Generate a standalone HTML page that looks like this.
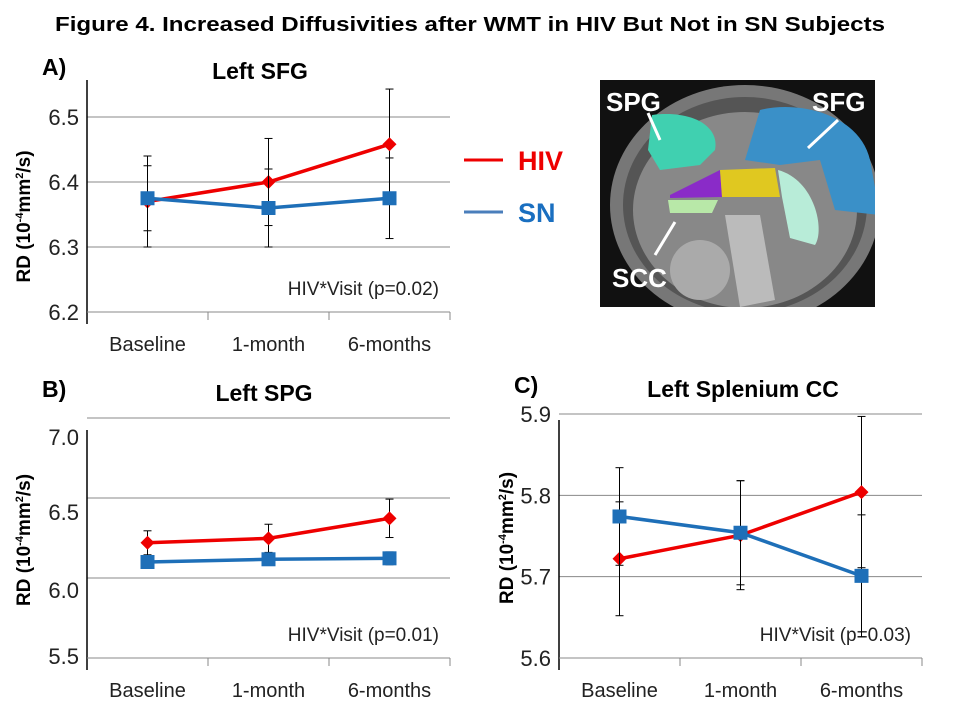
<!DOCTYPE html>
<html><head><meta charset="utf-8"><style>
body{margin:0;background:#fff;}
svg{display:block;font-family:"Liberation Sans",Arial,sans-serif;}
</style></head><body>
<svg id="s" width="960" height="720" viewBox="0 0 960 720">
<defs><clipPath id="bc"><rect x="600" y="80" width="275" height="227"/></clipPath></defs>
<text x="55" y="31" font-size="20" font-weight="bold" textLength="830" lengthAdjust="spacingAndGlyphs">Figure 4.  Increased Diffusivities after WMT in HIV But Not in SN Subjects</text>
<g>
<line x1="464" y1="160" x2="503" y2="160" stroke="#e00" stroke-width="3"/>
<text x="518" y="170" font-size="27" font-weight="bold" fill="#e00">HIV</text>
<line x1="464" y1="212" x2="503" y2="212" stroke="#4a7ebb" stroke-width="3"/>
<text x="518" y="222" font-size="27" font-weight="bold" fill="#1a6fc0">SN</text>
</g>
<g clip-path="url(#bc)">
<rect x="600" y="80" width="275" height="227" fill="#111"/>
<ellipse cx="745" cy="205" rx="135" ry="120" fill="#777"/>
<ellipse cx="745" cy="205" rx="122" ry="108" fill="#555"/>
<ellipse cx="745" cy="210" rx="112" ry="98" fill="#888"/>
<ellipse cx="700" cy="270" rx="30" ry="30" fill="#aaa"/>
<path d="M725 215 L760 215 L775 300 L740 307 Z" fill="#bbb"/>
<path d="M760 110 C800 100 860 115 870 160 L880 215 L835 210 L820 160 L780 165 L745 160 Z" fill="#3a90c8"/>
<path d="M652 115 C690 110 720 125 715 150 L700 165 L660 170 L648 150 Z" fill="#40d0b0"/>
<path d="M670 195 L720 170 L722 197 L670 198 Z" fill="#8a2bc8"/>
<path d="M720 170 L775 168 L780 197 L722 197 Z" fill="#e0c820"/>
<path d="M778 170 C815 180 825 230 815 245 L790 238 L782 197 Z" fill="#b8ecd8"/>
<path d="M668 200 L718 200 L712 213 L670 213 Z" fill="#b8e8a8"/>
<text x="606" y="111" font-size="26" font-weight="bold" fill="#fff">SPG</text>
<text x="812" y="111" font-size="26" font-weight="bold" fill="#fff">SFG</text>
<text x="612" y="287" font-size="26" font-weight="bold" fill="#fff">SCC</text>
<line x1="648" y1="113" x2="660" y2="140" stroke="#fff" stroke-width="3"/>
<line x1="838" y1="120" x2="808" y2="148" stroke="#fff" stroke-width="3"/>
<line x1="655" y1="255" x2="675" y2="222" stroke="#fff" stroke-width="3"/>
</g>
</svg>
<script>
const categories=["Baseline","1-month","6-months"];
const hivA=[6.37,6.40,6.458], hivAErr=[0.07,0.067,0.085];
const snA=[6.375,6.36,6.375], snAErr=[0.05,0.06,0.062];
const ticksA=[6.2,6.3,6.4,6.5];
const hivB=[6.22,6.248,6.373], hivBErr=[0.075,0.088,0.12];
const snB=[6.10,6.117,6.123], snBErr=[0.035,0.03,0.04];
const ticksB=[5.5,6.0,6.5,7.0];
const hivC=[5.722,5.751,5.804], hivCErr=[0.07,0.067,0.093];
const snC=[5.774,5.754,5.701], snCErr=[0.06,0.064,0.075];
const ticksC=[5.6,5.7,5.8,5.9];
const NS="http://www.w3.org/2000/svg";
const svg=document.getElementById('s');
function mk(tag,attrs,parent){const e=document.createElementNS(NS,tag);for(const k in attrs)e.setAttribute(k,attrs[k]);(parent||svg).appendChild(e);return e;}
function panel(o){
  const g=mk('g',{});
  
  
  const y=v=>o.y0-(v-o.v0)/(o.v1-o.v0)*(o.y0-o.y1);
  const bw=(o.x1-o.x0)/categories.length;
  const x=i=>o.x0+bw*(i+0.5);
  o.ticks.forEach((t,i)=>{
    if(i>0)mk('line',{x1:o.x0,x2:o.x1,y1:y(t),y2:y(t),stroke:'#888','stroke-width':1},g);
    const lab=mk('text',{x:o.x0-8,y:y(t)+8+(o.labOff?o.labOff[i]:0),'text-anchor':'end','font-size':22,fill:'#222'},g);
    lab.textContent=t.toFixed(1);
    
    
  });
  const ax=mk('line',{x1:o.x0,x2:o.x0,y1:o.axTop,y2:o.y0+12,stroke:'#000','stroke-width':1.5},g);
  
  
  mk('line',{x1:o.x0,x2:o.x1,y1:o.y0,y2:o.y0,stroke:'#888','stroke-width':1},g);
  for(let i=1;i<=categories.length;i++)mk('line',{x1:o.x0+bw*i,x2:o.x0+bw*i,y1:o.y0,y2:o.y0+8,stroke:'#888'},g);
  categories.forEach((c,i)=>{
    const t=mk('text',{x:x(i),y:o.y0+39,'text-anchor':'middle','font-size':20,fill:'#222'},g);
    t.textContent=c;
    
    
  });
  const yt=mk('text',{transform:`translate(${o.x0-o.ytOff},${(o.y0+o.y1)/2+2}) rotate(-90)`,'text-anchor':'middle','font-size':19,'font-weight':'bold'},g);
  yt.innerHTML='RD (10<tspan dy="-7" font-size="11">-4</tspan><tspan dy="7">mm</tspan><tspan dy="-7" font-size="11">2</tspan><tspan dy="7">/s)</tspan>';
  
  
  const tt=mk('text',{x:o.titleX,y:o.titleY,'text-anchor':'middle','font-size':23,'font-weight':'bold'},g);
  tt.textContent=o.title;
  
  
  const pl=mk('text',{x:o.x0-45,y:o.titleY-4,'font-size':23,'font-weight':'bold'},g);
  pl.textContent=o.letter;
  
  
  const an=mk('text',{x:o.x1-11,y:o.y0-17,'text-anchor':'end','font-size':19,fill:'#222'},g);
  an.textContent=o.note;
  
  
  [[o.hiv,o.hivErr,'#e00','hiv'],[o.sn,o.snErr,'#1e6fb8','sn']].forEach(([vals,errs,col,nm])=>{
    vals.forEach((v,i)=>{
      const e=errs[i];
      const eg=mk('g',{stroke:'#000','stroke-width':1},g);
      
      
      mk('line',{x1:x(i),x2:x(i),y1:y(v-e),y2:y(v+e)},eg);
      mk('line',{x1:x(i)-4,x2:x(i)+4,y1:y(v-e),y2:y(v-e)},eg);
      mk('line',{x1:x(i)-4,x2:x(i)+4,y1:y(v+e),y2:y(v+e)},eg);
    });
    const ln=mk('polyline',{points:vals.map((v,i)=>x(i)+','+y(v)).join(' '),fill:'none',stroke:col,'stroke-width':3.5},g);
    
    
    vals.forEach((v,i)=>{
      let m;
      if(nm==='hiv')m=mk('polygon',{points:`${x(i)},${y(v)-7} ${x(i)+7},${y(v)} ${x(i)},${y(v)+7} ${x(i)-7},${y(v)}`,fill:col},g);
      else m=mk('rect',{x:x(i)-7,y:y(v)-7,width:14,height:14,fill:col},g);
      
      
    });
  });
}
panel({name:'panel-a',letter:'A)',title:'Left SFG',titleX:260,titleY:79,note:'HIV*Visit (p=0.02)',x0:87,x1:450,y0:312,y1:117,v0:6.2,v1:6.5,ticks:ticksA,axTop:80,ytOff:57,hiv:hivA,hivErr:hivAErr,sn:snA,snErr:snAErr});
panel({name:'panel-b',letter:'B)',title:'Left SPG',titleX:264,titleY:401,note:'HIV*Visit (p=0.01)',x0:87,x1:450,y0:658,y1:418,v0:5.5,v1:7.0,ticks:ticksB,axTop:430,ytOff:57,hiv:hivB,hivErr:hivBErr,sn:snB,snErr:snBErr,labOff:[-2,12,14,19]});
panel({name:'panel-c',letter:'C)',title:'Left Splenium CC',titleX:743,titleY:397,note:'HIV*Visit (p=0.03)',x0:559,x1:922,y0:658,y1:414,v0:5.6,v1:5.9,ticks:ticksC,axTop:420,ytOff:46,hiv:hivC,hivErr:hivCErr,sn:snC,snErr:snCErr});
</script>
</body></html>
